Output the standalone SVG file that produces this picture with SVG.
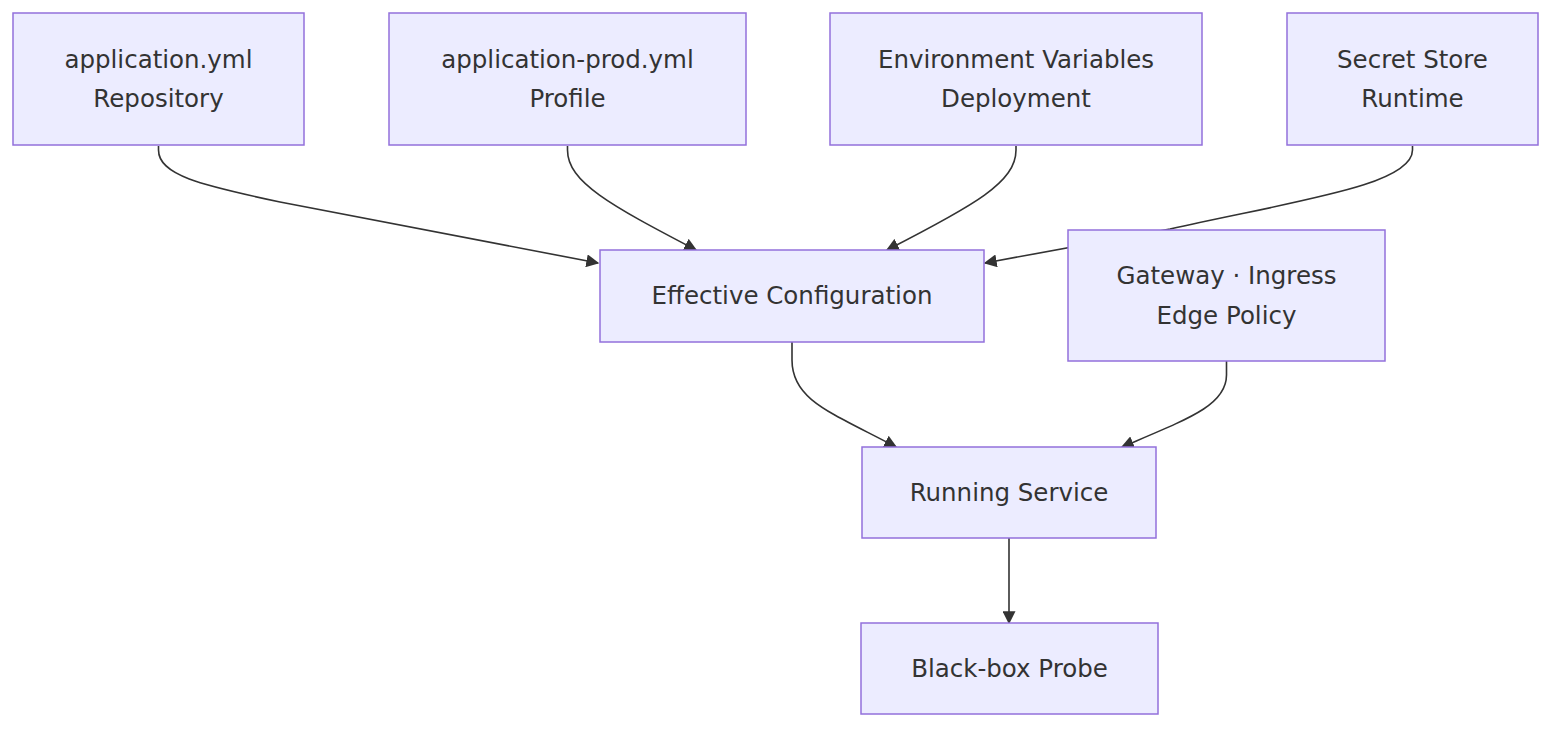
<svg xmlns="http://www.w3.org/2000/svg" width="1568" height="738" viewBox="0 0 1568 738">
<style>
.node rect{fill:#ECECFF;stroke:#9370DB;stroke-width:1.5}
.node text{font-family:"DejaVu Sans",sans-serif;font-size:24.5px;fill:#333;text-anchor:middle}
.edge{fill:none;stroke:#333;stroke-width:1.6}
</style>
<defs>
<marker id="arr" viewBox="0 0 10 10" refX="9" refY="5" markerWidth="13" markerHeight="13" markerUnits="userSpaceOnUse" orient="auto">
<path d="M0,0 L10,5 L0,10 z" fill="#333"/>
</marker>
</defs>
<rect width="1568" height="738" fill="#fff"/>
<g id="edges">
<path class="edge" marker-end="url(#arr)" d="M158.5,146 V150 C158.5,175 200,185 280,202 L598,263"/>
<path class="edge" marker-end="url(#arr)" d="M567.5,146 V150 C567.5,182 610,205 696,250"/>
<path class="edge" marker-end="url(#arr)" d="M1016,146 V150 C1016,182 975,205 887,250"/>
<path class="edge" marker-end="url(#arr)" d="M1412.5,146 V150 C1412.5,185 1300,200 1170,229 L985,263"/>
<path class="edge" marker-end="url(#arr)" d="M792,342 V360 C792,400 830,412 896,447"/>
<path class="edge" marker-end="url(#arr)" d="M1226.5,361 V375 C1226.5,405 1190,418 1122,447"/>
<path class="edge" marker-end="url(#arr)" d="M1009,538 V623"/>
</g>
<g id="n1" class="node"><rect x="13" y="13" width="291" height="132"/><text x="158.5" y="68">application.yml</text><text x="158.5" y="107">Repository</text></g>
<g id="n2" class="node"><rect x="389" y="13" width="357" height="132"/><text x="567.5" y="68">application-prod.yml</text><text x="567.5" y="107">Profile</text></g>
<g id="n3" class="node"><rect x="830" y="13" width="372" height="132"/><text x="1016" y="68">Environment Variables</text><text x="1016" y="107">Deployment</text></g>
<g id="n4" class="node"><rect x="1287" y="13" width="251" height="132"/><text x="1412.5" y="68">Secret Store</text><text x="1412.5" y="107">Runtime</text></g>
<g id="n5" class="node"><rect x="600" y="250" width="384" height="92"/><text x="792" y="304">Effective Configuration</text></g>
<g id="n6" class="node"><rect x="1068" y="230" width="317" height="131"/><text x="1226.5" y="284">Gateway · Ingress</text><text x="1226.5" y="324">Edge Policy</text></g>
<g id="n7" class="node"><rect x="862" y="447" width="294" height="91"/><text x="1009" y="501">Running Service</text></g>
<g id="n8" class="node"><rect x="861" y="623" width="297" height="91"/><text x="1009.5" y="677">Black-box Probe</text></g>
</svg>
